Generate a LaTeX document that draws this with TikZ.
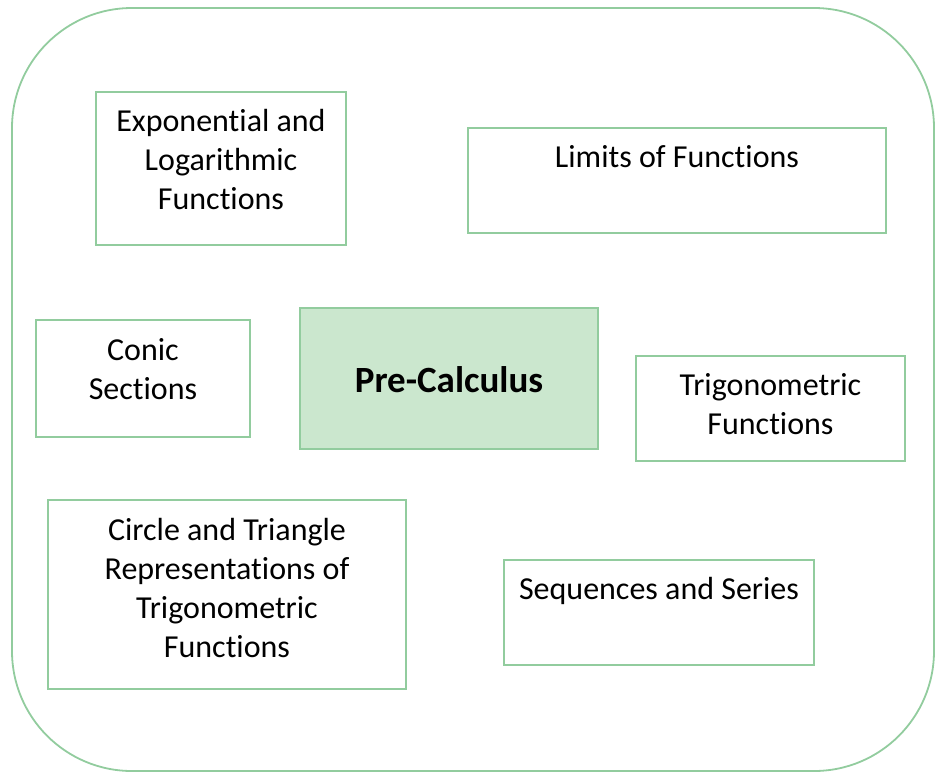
\documentclass[tikz,border=0pt]{standalone}
\usepackage{fontspec}
\setmainfont{Carlito}[Ligatures=NoCommon]
\definecolor{leaf}{RGB}{146,204,158}
\definecolor{mint}{RGB}{203,231,206}
\begin{document}
\begin{tikzpicture}
[x=1pt,y=-1pt,
 topic/.style={rectangle,draw=leaf,line width=1.8pt,fill=white,inner sep=0pt},
 core/.style={topic,fill=mint},
 words/.style={align=center,inner sep=0pt,font=\fontsize{32}{39}\selectfont}]
\useasboundingbox (0,0) rectangle (940,772);
%\fill[white] (0,0) rectangle (940,772);
\draw [leaf,line width=1.8pt,rounded corners=120pt] (12,8) rectangle (934,771);
\node[topic,minimum width=250pt,minimum height=153pt] (exp) at (221,168.5) {};
\node[topic,minimum width=418pt,minimum height=105pt] (lim) at (677,180.5) {};
\node[topic,minimum width=214pt,minimum height=117pt] (con) at (143,378.5) {};
\node[core,minimum width=298pt,minimum height=141pt] (pre) at (449,378.5) {};
\node[topic,minimum width=269pt,minimum height=105pt] (tri) at (770.5,408.5) {};
\node[topic,minimum width=358pt,minimum height=189pt] (cir) at (227,594.5) {};
\node[topic,minimum width=310pt,minimum height=105pt] (seq) at (659,612.5) {};
\node[words] (expt) at (221,160) {Exponential and\\Logarithmic\\Functions};
\node[words] (limt) at (677,157) {Limits of Functions};
\node[words] (cont) at (143,369) {Conic\\Sections};
\node[words,font=\fontsize{37}{39}\selectfont\bfseries] (pret) at (449,380) {Pre-Calculus};
\node[words] (trit) at (770.5,404.5) {Trigonometric\\Functions};
\node[words] (cirt) at (227,587.5) {Circle and Triangle\\Representations of\\Trigonometric\\Functions};
\node[words] (seqt) at (659,591) {Sequences and Series};
\end{tikzpicture}
\end{document}
